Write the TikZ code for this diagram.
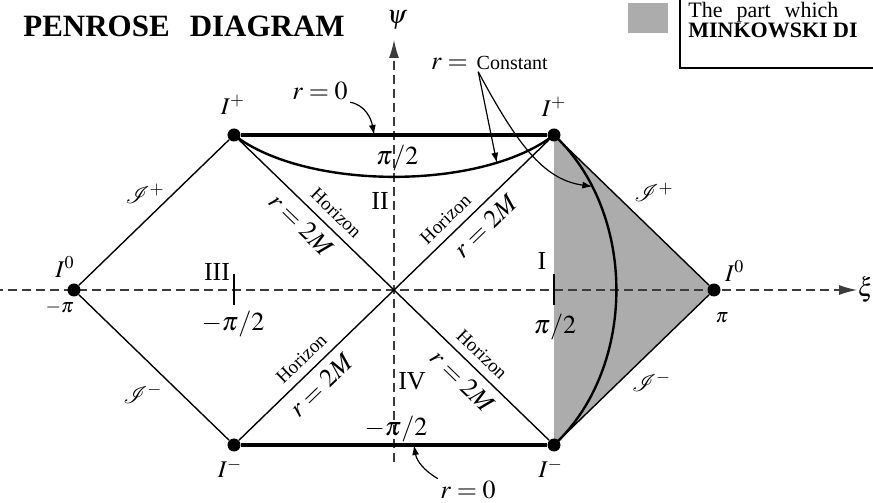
\documentclass[tikz,border=0pt]{standalone}
\usepackage{mathptmx}
\usepackage{mathrsfs}
\usepackage{fontspec}
\setmainfont{Liberation Serif}
\usetikzlibrary{arrows.meta,positioning,backgrounds}
\definecolor{shadec}{RGB}{172,172,172}
\definecolor{axisc}{RGB}{60,60,60}
\newcommand{\scri}{\mathscr{I}}

\begin{document}
\begin{tikzpicture}[x=80pt,y=77.5pt,>=Latex,
  dot/.style={circle,fill,inner sep=0pt,minimum size=6.5pt},
  edge/.style={line width=0.7pt},
  rzero/.style={line width=2pt},
  rconst/.style={line width=1.2pt},
  pointer/.style={line width=0.6pt,-{Latex[length=5pt,width=3.5pt]}},
  axis/.style={axisc,line width=0.7pt,dash pattern=on 4.5pt off 2.5pt,-{Latex[length=9pt,width=5pt]}},
  big/.style={font=\fontsize{13}{15}\selectfont,inner sep=1pt},
  mid/.style={font=\fontsize{12}{14}\selectfont,inner sep=1pt},
  small/.style={font=\fontsize{10}{12}\selectfont,inner sep=1pt},
  hor/.style={font=\fontsize{9.5}{11}\selectfont,inner sep=1pt,sloped}]
\useasboundingbox (-2.4625,-1.3742) rectangle (2.99375,1.8710);
\clip (-2.4625,-1.3742) rectangle (2.99375,1.8710);

% corners of the diagram
\node[dot] (IzL) at (-2,0) {};
\node[dot] (IzR) at (2,0) {};
\node[dot] (IpL) at (-1,1) {};
\node[dot] (IpR) at (1,1) {};
\node[dot] (ImL) at (-1,-1) {};
\node[dot] (ImR) at (1,-1) {};
\coordinate (o) at (0,0);
\coordinate (xi0) at (-2.5,0);
\coordinate (xi1) at (2.894,0);
\coordinate (psi0) at (0,-1.11);
\coordinate (psi1) at (0,1.613);

% shaded part and axes
\begin{scope}[on background layer]
\fill[shadec] (IpR.center) -- (ImR.center) -- (IzR.center) -- cycle;
\draw[axis] (xi0) -- (xi1);
\draw[axis] (psi0) -- (psi1);
\end{scope}
\foreach \x in {-1,1} \draw[edge] (\x,0.1) -- (\x,-0.1);

% null infinity
\draw[edge] (IzL) -- (IpL);
\draw[edge] (IzL) -- (ImL);
\draw[edge] (IzR) -- (IpR);
\draw[edge] (IzR) -- (ImR);

% horizons
\draw[edge] (IpL) -- (o) node[hor,pos=0.56,above=3pt] {Horizon} node[big,sloped,pos=0.48,below=3pt] {$r=2M$};
\draw[edge] (o) -- (IpR) node[hor,pos=0.40,above=3pt] {Horizon} node[big,sloped,pos=0.51,below=3pt] {$r=2M$};
\draw[edge] (ImL) -- (o) node[hor,pos=0.47,above=3pt] {Horizon} node[big,sloped,pos=0.45,below=3pt] {$r=2M$};
\draw[edge] (o) -- (ImR) node[hor,pos=0.50,above=3pt] {Horizon} node[big,sloped,pos=0.52,below=3pt] {$r=2M$};

% singularities r=0
\draw[rzero] (IpL) -- (IpR) coordinate[pos=0.435] (r0t);
\draw[rzero] (ImL) -- (ImR) coordinate[pos=0.565] (r0b);

% r = constant curves
\draw[rconst] (IpL.center) .. controls (-0.55,0.64) and (0.55,0.64) .. (IpR.center) coordinate[pos=0.79] (ta);
\draw[rconst] (IpR.center) .. controls (1.52,0.5) and (1.52,-0.5) .. (ImR.center) coordinate[pos=0.19] (ra);

% labels of the corners
\node[mid] (lIzL) at (-2.056,0.148) {$I^0$};
\node[small] (lmpi) at (-2.09,-0.11) {$-\pi$};
\node[mid] (lIzR) at (2.13,0.123) {$I^0$};
\node[small] (lpi) at (2.05,-0.18) {$\pi$};
\node[mid] (lIpL) at (-1.006,1.194) {$I^+$};
\node[mid] (lIpR) at (1.0,1.18) {$I^+$};
\node[mid] (lImL) at (-1.025,-1.15) {$I^-$};
\node[mid] (lImR) at (0.98,-1.15) {$I^-$};
\node[mid] (sLp) at (-1.556,0.62) {$\scri^+$};
\node[mid] (sRp) at (1.625,0.63) {$\scri^+$};
\node[mid] (sLm) at (-1.57,-0.67) {$\scri^-$};
\node[mid] (sRm) at (1.61,-0.59) {$\scri^-$};

% regions and axis values
\node[big] (rII) at (-0.0875,0.574) {II};
\node[big] (rIII) at (-1.106,0.116) {III};
\node[big] (rI) at (0.925,0.187) {I};
\node[big] (rIV) at (0.1125,-0.587) {IV};
\node[big] (vt) at (0.02,0.85) {$\pi/2$};
\node[big] (vl) at (-1.006,-0.22) {$-\pi/2$};
\node[big] (vr) at (1.006,-0.24) {$\pi/2$};
\node[big] (vb) at (0.0125,-0.897) {$-\pi/2$};
\node[big] (psi) at (0.02,1.742) {$\psi$};
\node[big] (xi) at (2.95,0) {$\xi$};

% r=0 and r=constant pointers
\node[big] (rzt) at (-0.4625,1.284) {$r=0$};
\node[big] (rzb) at (0.4625,-1.29) {$r=0$};
\draw[pointer] (rzt.south east) to[out=-10,in=100] (r0t);
\draw[pointer] (rzb.north west) to[out=150,in=-80] (r0b);
\node[big] (rc) at (0.347,1.461) {$r=$};
\node[small,anchor=base west] (cst) at ([xshift=2pt]rc.base east) {Constant};
\draw[pointer] ([xshift=2pt]cst.south west) -- (ta);
\draw[pointer] ([xshift=2pt]cst.south west) .. controls (0.79,0.9) and (0.95,0.71) .. (ra);

% title and legend
\node[anchor=west,inner sep=0pt,font=\fontsize{15.5}{18}\selectfont\bfseries] (title) at (-2.319,1.703) {PENROSE\hspace{10pt}DIAGRAM};
\fill[shadec] (1.4625,1.852) rectangle (1.7125,1.658);
\draw[line width=0.6pt] (1.7875,1.432) rectangle (3.1,1.95);
\node[anchor=west,inner sep=0pt,font=\fontsize{11}{13}\selectfont] (leg1) at (1.8375,1.79) {\makebox[75pt][s]{The part which}};
\node[anchor=west,inner sep=0pt,font=\fontsize{11}{13}\selectfont\bfseries] (leg2) at (1.8375,1.674) {MINKOWSKI DI};
\end{tikzpicture}
\end{document}
